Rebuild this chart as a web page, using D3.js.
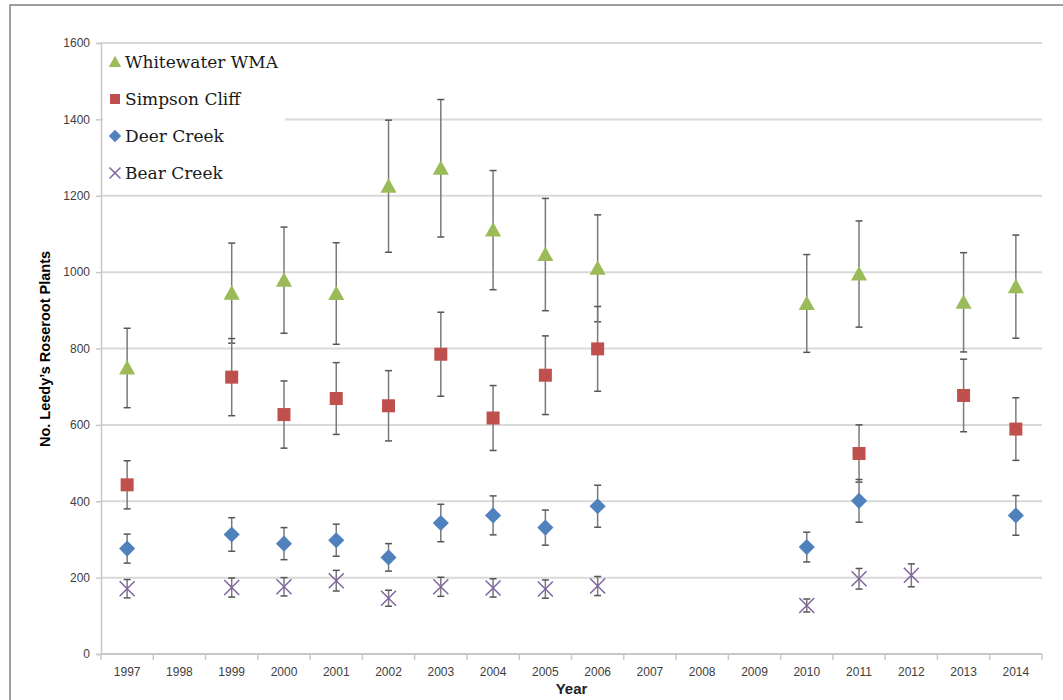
<!DOCTYPE html>
<html>
<head>
<meta charset="utf-8">
<script src="https://cdn.jsdelivr.net/npm/d3@7"></script>
<style>
 body { margin: 0; background: #fff; }
 svg text { font-family: "Liberation Sans", Arial, sans-serif; }
</style>
</head>
<body>
<div id="chart"></div>
<script>
//Categories on the x axis.
var years = ["1997","1998","1999","2000","2001","2002","2003","2004","2005","2006","2007","2008","2009","2010","2011","2012","2013","2014"];

//Y axis ticks.
var yTicks = [0, 200, 400, 600, 800, 1000, 1200, 1400, 1600];

//Whitewater WMA: year, mean, error.
var whitewaterYears = ["1997","1999","2000","2001","2002","2003","2004","2005","2006","2010","2011","2013","2014"];
var whitewaterMean  = [749, 945, 979, 944, 1225, 1272, 1110, 1046, 1010, 918, 995, 921, 962];
var whitewaterErr   = [104, 131, 139, 133, 173, 180, 156, 147, 140, 128, 139, 130, 135];

//Simpson Cliff.
var simpsonYears = ["1997","1999","2000","2001","2002","2003","2004","2005","2006","2011","2013","2014"];
var simpsonMean  = [443, 725, 627, 669, 650, 785, 618, 730, 799, 525, 677, 589];
var simpsonErr   = [63, 101, 88, 94, 92, 110, 85, 103, 111, 75, 95, 82];

//Deer Creek.
var deerYears = ["1997","1999","2000","2001","2002","2003","2004","2005","2006","2010","2011","2014"];
var deerMean  = [276, 313, 289, 298, 253, 343, 363, 331, 387, 280, 401, 363];
var deerErr   = [38, 44, 42, 42, 36, 49, 51, 46, 55, 39, 56, 52];

//Bear Creek.
var bearYears = ["1997","1999","2000","2001","2002","2003","2004","2005","2006","2010","2011","2012"];
var bearMean  = [171, 174, 176, 192, 146, 176, 173, 170, 178, 127, 197, 206];
var bearErr   = [24, 25, 24, 27, 21, 25, 24, 24, 25, 17, 27, 30];

var seriesNames = ["Whitewater WMA", "Simpson Cliff", "Deer Creek", "Bear Creek"];
var seriesColors = ["#9BBB59", "#C0504D", "#4F81BD", "#8064A2"];

function zip(ys, m, e) {
 return ys.map(function(y, i) { return {year: y, mean: m[i], err: e[i]}; });
}
var series = [
 {name: seriesNames[0], color: seriesColors[0], shape: "triangle", data: zip(whitewaterYears, whitewaterMean, whitewaterErr)},
 {name: seriesNames[1], color: seriesColors[1], shape: "square",   data: zip(simpsonYears, simpsonMean, simpsonErr)},
 {name: seriesNames[2], color: seriesColors[2], shape: "diamond",  data: zip(deerYears, deerMean, deerErr)},
 {name: seriesNames[3], color: seriesColors[3], shape: "cross",    data: zip(bearYears, bearMean, bearErr)}
];

var width = 1063, height = 700;
var plotLeft = 101, plotRight = 1042, plotTop = 43, plotBottom = 654;

var svg = d3.select("#chart").append("svg").attr("width", width).attr("height", height);

//Outer frame.
svg.append("rect").attr("x", 10).attr("y", 5).attr("width", 1100).attr("height", 800)
 .attr("fill", "none").attr("stroke", "#7f7f7f").attr("stroke-width", 1.5);

var x = d3.scaleBand().domain(years).range([plotLeft, plotRight]);
var y = d3.scaleLinear().domain([0, 1600]).range([plotBottom, plotTop]);

//Gridlines.
svg.append("g").selectAll("line").data(yTicks.slice(1)).enter().append("line")
 .attr("x1", plotLeft).attr("x2", plotRight)
 .attr("y1", function(d) { return y(d); }).attr("y2", function(d) { return y(d); })
 .attr("stroke", "#d9d9d9").attr("stroke-width", 2);

//Y axis.
var yAxis = svg.append("g").attr("transform", "translate(" + plotLeft + ",0)")
 .call(d3.axisLeft(y).tickValues(yTicks).tickFormat(d3.format("d")).tickSize(5).tickPadding(6));
yAxis.select(".domain").attr("stroke", "#c8c8c8").attr("stroke-width", 1.5);
yAxis.selectAll(".tick line").attr("stroke", "#c8c8c8").attr("stroke-width", 1.5);
yAxis.selectAll("text").attr("fill", "#404040").style("font-size", "12px");

//X axis.
var xAxis = svg.append("g").attr("transform", "translate(0," + plotBottom + ")")
 .call(d3.axisBottom(x).tickSize(0).tickPadding(13));
xAxis.select(".domain").attr("d", "M" + plotLeft + ",0H" + plotRight).attr("stroke", "#c8c8c8").attr("stroke-width", 2);
xAxis.selectAll("text").attr("fill", "#404040").style("font-size", "12px");
//Tick marks between categories.
var edges = years.map(function(d) { return x(d); }).concat([plotRight]);
xAxis.selectAll("line.sep").data(edges).enter().append("line").attr("class", "sep")
 .attr("x1", function(d) { return d; }).attr("x2", function(d) { return d; })
 .attr("y1", 0).attr("y2", 6).attr("stroke", "#c8c8c8").attr("stroke-width", 1.5);

//Axis titles.
svg.append("text").attr("transform", "translate(50,349) rotate(-90)")
 .attr("text-anchor", "middle").attr("font-weight", "bold").style("font-size", "14.5px")
 .attr("fill", "#000").text("No. Leedy\u2019s Roseroot Plants");
svg.append("text").attr("x", (plotLeft + plotRight) / 2).attr("y", 694)
 .attr("text-anchor", "middle").attr("font-weight", "bold").style("font-size", "15px")
 .attr("fill", "#222").text("Year");

function cx(d) { return x(d.year) + x.bandwidth() / 2; }

function drawMarker(g, shape, color, size) {
 if (shape === "triangle") {
  g.append("path").attr("d", "M0," + (-size * 0.62) + "L" + (size * 0.62) + "," + (size * 0.5) + "L" + (-size * 0.62) + "," + (size * 0.5) + "Z").attr("fill", color);
 } else if (shape === "square") {
  g.append("rect").attr("x", -size / 2).attr("y", -size / 2).attr("width", size).attr("height", size).attr("fill", color);
 } else if (shape === "diamond") {
  g.append("path").attr("d", "M0," + (-size * 0.62) + "L" + (size * 0.62) + ",0L0," + (size * 0.62) + "L" + (-size * 0.62) + ",0Z").attr("fill", color);
 } else {
  var s = size * 0.5;
  g.append("path").attr("d", "M" + (-s) + "," + (-s) + "L" + s + "," + s + "M" + (-s) + "," + s + "L" + s + "," + (-s))
   .attr("stroke", color).attr("stroke-width", 1.5).attr("fill", "none");
 }
}

//Series: error bars then markers.
series.forEach(function(s) {
 var g = svg.append("g");
 var bars = g.selectAll("g.err").data(s.data).enter().append("g").attr("class", "err");
 bars.append("line")
  .attr("x1", cx).attr("x2", cx)
  .attr("y1", function(d) { return y(d.mean + d.err); })
  .attr("y2", function(d) { return y(d.mean - d.err); })
  .attr("stroke", "#7a7a7a").attr("stroke-width", 1.5);
 [1, -1].forEach(function(sign) {
  bars.append("line")
   .attr("x1", function(d) { return cx(d) - 3.5; }).attr("x2", function(d) { return cx(d) + 3.5; })
   .attr("y1", function(d) { return y(d.mean + sign * d.err); })
   .attr("y2", function(d) { return y(d.mean + sign * d.err); })
   .attr("stroke", "#555").attr("stroke-width", 1.5);
 });
 var marks = g.selectAll("g.mark").data(s.data).enter().append("g").attr("class", "mark")
  .attr("transform", function(d) { return "translate(" + cx(d) + "," + y(d.mean) + ")"; });
 marks.each(function() { drawMarker(d3.select(this), s.shape, s.color, s.shape === "cross" ? 15 : 13); });
});

//Legend (with white background hiding the gridline).
var legend = svg.append("g");
legend.append("rect").attr("x", 103).attr("y", 48).attr("width", 182).attr("height", 140).attr("fill", "#fff");
series.forEach(function(s, i) {
 var ly = 62 + i * 37;
 var mg = legend.append("g").attr("transform", "translate(115," + ly + ")");
 drawMarker(mg, s.shape, s.color, s.shape === "cross" ? 11 : 10);
 legend.append("text").attr("x", 125).attr("y", ly + 6)
  .style("font-family", "'DejaVu Serif', serif").style("font-size", "17px").attr("fill", "#1a1a1a")
  .text(s.name);
});
</script>
</body>
</html>
